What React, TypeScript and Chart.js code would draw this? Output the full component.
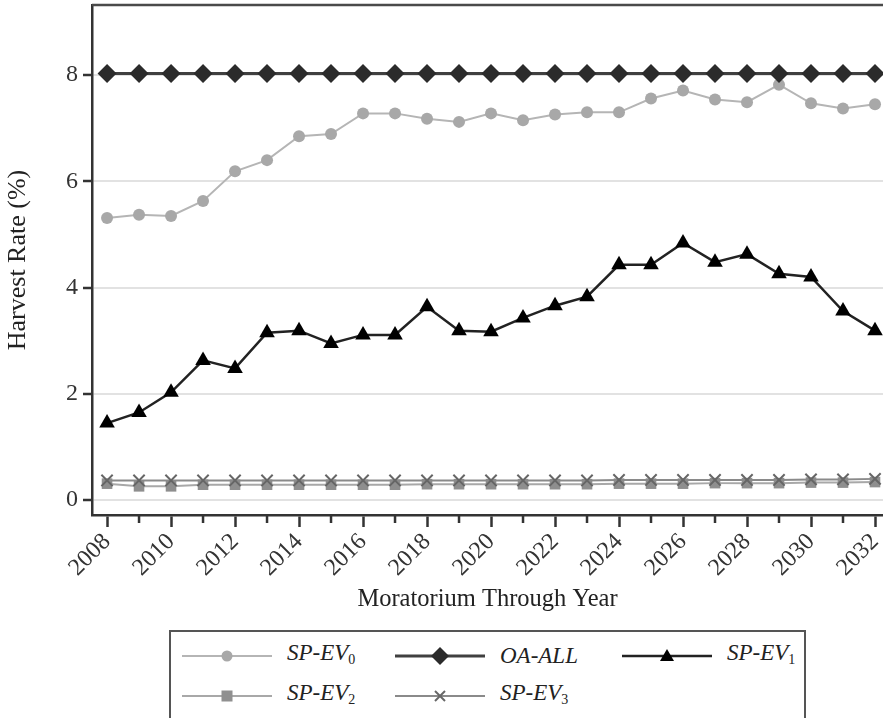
import React, { useEffect, useRef } from "react";
import { Chart, registerables } from "chart.js";

Chart.register(...registerables);

const years = [2008, 2009, 2010, 2011, 2012, 2013, 2014, 2015, 2016, 2017, 2018, 2019, 2020, 2021, 2022, 2023, 2024, 2025, 2026, 2027, 2028, 2029, 2030, 2031, 2032];
const yTickValues = [0, 2, 4, 6, 8];

const spEv0 = [5.31, 5.37, 5.35, 5.63, 6.19, 6.40, 6.85, 6.89, 7.28, 7.28, 7.18, 7.12, 7.28, 7.15, 7.26, 7.30, 7.30, 7.56, 7.71, 7.54, 7.49, 7.82, 7.47, 7.37, 7.45];
const oaAll = [8.03, 8.03, 8.03, 8.03, 8.03, 8.03, 8.03, 8.03, 8.03, 8.03, 8.03, 8.03, 8.03, 8.03, 8.03, 8.03, 8.03, 8.03, 8.03, 8.03, 8.03, 8.03, 8.03, 8.03, 8.03];
const spEv1 = [1.45, 1.65, 2.03, 2.63, 2.48, 3.15, 3.19, 2.95, 3.11, 3.11, 3.64, 3.19, 3.17, 3.43, 3.66, 3.83, 4.43, 4.43, 4.84, 4.48, 4.63, 4.26, 4.20, 3.56, 3.19];
const spEv2 = [0.31, 0.26, 0.26, 0.29, 0.29, 0.29, 0.29, 0.29, 0.29, 0.29, 0.30, 0.30, 0.30, 0.30, 0.30, 0.30, 0.31, 0.31, 0.31, 0.32, 0.32, 0.32, 0.33, 0.33, 0.34];
const spEv3 = [0.37, 0.37, 0.37, 0.37, 0.37, 0.37, 0.37, 0.37, 0.37, 0.37, 0.37, 0.37, 0.37, 0.37, 0.37, 0.37, 0.38, 0.38, 0.38, 0.38, 0.38, 0.38, 0.39, 0.39, 0.40];

const FONT = "'Liberation Serif', 'Times New Roman', serif";

const framePlugin = {
  id: "frame",
  afterDraw(chart: any) {
    const { ctx, chartArea: a, scales } = chart;
    ctx.save();
    ctx.strokeStyle = "#4a4a4a";
    ctx.lineWidth = 2.5;
    ctx.beginPath();
    ctx.moveTo(a.left, a.top);
    ctx.lineTo(a.right, a.top);
    ctx.stroke();
    const xs = scales.x;
    ctx.strokeStyle = "#333";
    ctx.lineWidth = 2.5;
    years.forEach((yr) => {
      if (yr % 2 === 1) {
        const px = xs.getPixelForValue(yr);
        ctx.beginPath();
        ctx.moveTo(px, a.bottom);
        ctx.lineTo(px, a.bottom + 8);
        ctx.stroke();
      }
    });
    ctx.restore();
  },
};

function Sample({ kind }: { kind: string }) {
  let line = "#b5b5b5";
  let lw = 2;
  let marker: any = null;
  if (kind === "circle") {
    marker = <circle cx={45} cy={10} r={5.5} fill="#a8a8a8" />;
  } else if (kind === "diamond") {
    line = "#404040";
    lw = 3;
    marker = <polygon points="45,1 54,10 45,19 36,10" fill="#2b2b2b" />;
  } else if (kind === "triangle") {
    line = "#222";
    lw = 2.5;
    marker = <polygon points="45,3 52,15 38,15" fill="#000" />;
  } else if (kind === "square") {
    line = "#a8a8a8";
    marker = <rect x={39.5} y={4.5} width={11} height={11} fill="#909090" />;
  } else if (kind === "cross") {
    line = "#8a8a8a";
    marker = (
      <g stroke="#666" strokeWidth={2}>
        <line x1={40} y1={5} x2={50} y2={15} />
        <line x1={50} y1={5} x2={40} y2={15} />
      </g>
    );
  }
  return (
    <svg width={90} height={20} style={{ display: "block" }}>
      <line x1={0} y1={10} x2={90} y2={10} stroke={line} strokeWidth={lw} />
      {marker}
    </svg>
  );
}

function LegendItem({ left, top, kind, name, sub }: { left: number; top: number; kind: string; name: string; sub?: string }) {
  return (
    <div style={{ position: "absolute", left, top, height: 20, display: "flex", alignItems: "center" }}>
      <Sample kind={kind} />
      <span style={{ marginLeft: 15, fontFamily: FONT, fontStyle: "italic", fontSize: 23, color: "#222", lineHeight: "20px", whiteSpace: "nowrap" }}>
        {name}
        {sub !== undefined ? <sub style={{ fontStyle: "normal", fontSize: 14, verticalAlign: "-4px" }}>{sub}</sub> : null}
      </span>
    </div>
  );
}

export default function App() {
  const ref = useRef<HTMLCanvasElement>(null);
  useEffect(() => {
    const pts = (vals: number[]) => years.map((x, i) => ({ x, y: vals[i] }));
    const chart = new Chart(ref.current as HTMLCanvasElement, {
      type: "line",
      data: {
        datasets: [
          {
            label: "SP-EV0",
            data: pts(spEv0),
            borderColor: "#b5b5b5",
            backgroundColor: "#a8a8a8",
            borderWidth: 2,
            pointStyle: "circle",
            pointRadius: 6,
            pointBorderWidth: 0,
            order: 4,
          },
          {
            label: "OA-ALL",
            data: pts(oaAll),
            borderColor: "#404040",
            backgroundColor: "#2b2b2b",
            borderWidth: 3,
            pointStyle: "rectRot",
            pointRadius: 9.5,
            pointBorderWidth: 0,
            order: 1,
          },
          {
            label: "SP-EV1",
            data: pts(spEv1),
            borderColor: "#222",
            backgroundColor: "#000",
            borderWidth: 2.5,
            pointStyle: "triangle",
            pointRadius: 9,
            pointBorderWidth: 0,
            order: 2,
          },
          {
            label: "SP-EV2",
            data: pts(spEv2),
            borderColor: "#a8a8a8",
            backgroundColor: "#8e8e8e",
            borderWidth: 2,
            pointStyle: "rect",
            pointRadius: 7.5,
            pointBorderWidth: 0,
            order: 5,
          },
          {
            label: "SP-EV3",
            data: pts(spEv3),
            borderColor: "#8a8a8a",
            backgroundColor: "#666",
            borderWidth: 2,
            pointStyle: "crossRot",
            pointRadius: 8,
            pointBorderColor: "#666",
            pointBorderWidth: 2,
            order: 3,
          },
        ],
      },
      options: {
        animation: false,
        responsive: true,
        maintainAspectRatio: false,
        layout: { autoPadding: false, padding: { left: 0, right: 0, top: 5, bottom: 0 } },
        plugins: { legend: { display: false }, tooltip: { enabled: false } },
        elements: { line: { tension: 0 } },
        scales: {
          x: {
            type: "linear",
            min: 2007.53,
            max: 2032.25,
            afterBuildTicks: (s: any) => {
              s.ticks = years.map((v) => ({ value: v }));
            },
            afterFit: (s: any) => {
              s.height = 103;
              s.paddingLeft = 0;
              s.paddingRight = 0;
            },
            ticks: {
              autoSkip: false,
              maxRotation: 45,
              minRotation: 45,
              padding: 1,
              color: "#333",
              font: { family: FONT, size: 24 },
              callback: (v: any) => (Number(v) % 2 === 0 ? String(v) : ""),
            },
            grid: {
              display: true,
              drawOnChartArea: false,
              drawTicks: true,
              tickLength: 12,
              tickWidth: 2.5,
              tickColor: (c: any) => (c.tick && c.tick.value % 2 === 1 ? "rgba(0,0,0,0)" : "#333"),
            },
            border: { display: true, color: "#333", width: 2.5 },
            title: {
              display: true,
              text: "Moratorium Through Year",
              color: "#222",
              font: { family: FONT, size: 24.5 },
              padding: { top: 0, bottom: 4 },
            },
          },
          y: {
            type: "linear",
            min: -0.28,
            max: 9.32,
            afterBuildTicks: (s: any) => {
              s.ticks = yTickValues.map((v) => ({ value: v }));
            },
            afterFit: (s: any) => {
              s.width = 92;
              s.paddingTop = 0;
              s.paddingBottom = 0;
            },
            ticks: {
              padding: 5,
              color: "#333",
              font: { family: FONT, size: 24 },
            },
            grid: {
              color: "#e2e2e2",
              lineWidth: 2,
              drawTicks: true,
              tickLength: 9,
              tickWidth: 2.5,
              tickColor: "#333",
            },
            border: { display: true, color: "#333", width: 2.5 },
            title: {
              display: true,
              text: "Harvest Rate (%)",
              color: "#222",
              font: { family: FONT, size: 26 },
              padding: { top: 3, bottom: 0 },
            },
          },
        },
      },
      plugins: [framePlugin],
    });
    return () => chart.destroy();
  }, []);

  return (
    <div style={{ position: "fixed", left: 0, top: 0, width: 883, height: 718, overflow: "hidden", background: "#fff" }}>
      <div style={{ position: "absolute", left: 0, top: 0, width: 883, height: 618 }}>
        <canvas ref={ref} />
      </div>
      <div style={{ position: "absolute", left: 169, top: 630, width: 637, height: 110, border: "2px solid #555", boxSizing: "border-box" }}>
        <LegendItem left={11} top={14} kind="circle" name="SP-EV" sub="0" />
        <LegendItem left={224} top={14} kind="diamond" name="OA-ALL" />
        <LegendItem left={451} top={14} kind="triangle" name="SP-EV" sub="1" />
        <LegendItem left={11} top={54} kind="square" name="SP-EV" sub="2" />
        <LegendItem left={224} top={54} kind="cross" name="SP-EV" sub="3" />
      </div>
    </div>
  );
}
